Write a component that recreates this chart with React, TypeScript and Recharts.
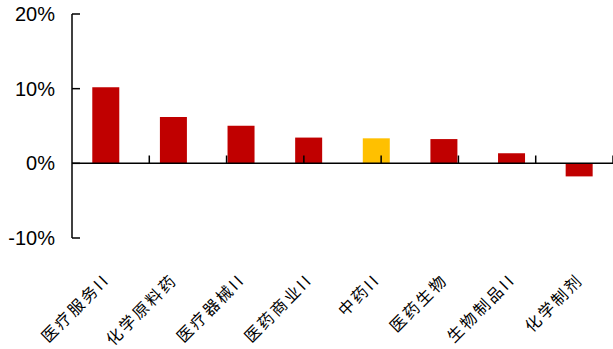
import { Bar, BarChart, Cell, ReferenceLine, XAxis, YAxis } from "recharts";

const categories = ["医疗服务II", "化学原料药", "医疗器械II", "医药商业II", "中药II", "医药生物", "生物制品II", "化学制剂"];
const returns = [10.2, 6.2, 5.05, 3.45, 3.35, 3.25, 1.35, -1.75];
const yTicks = [-10, 0, 10, 20];
const highlighted = "中药II";

const data = categories.map((name, i) => ({ name, value: returns[i] }));
const boundaries = categories.slice(1).map((_, i) => i + 1);

const RED = "#C00000";
const YELLOW = "#FFC000";

function CategoryTick(props: any) {
  const { x, y, payload } = props;
  return (
    <text
      transform={`translate(${x + 1},${y + 31}) rotate(-45)`}
      textAnchor="end"
      dy="0.35em"
      fontSize={16}
      letterSpacing={2.5}
      fontFamily="'Noto Sans CJK SC', sans-serif"
      fill="#000"
    >
      {payload.value}
    </text>
  );
}

export default function App() {
  return (
    <div style={{ position: "absolute", left: 0, top: 0, background: "#fff" }}>
      <BarChart
        width={613}
        height={349}
        data={data}
        barCategoryGap="30%"
        margin={{ top: 14, right: 0, left: 0, bottom: 0 }}
      >
        <XAxis
          dataKey="name"
          height={111}
          interval={0}
          axisLine={false}
          tickLine={false}
          tick={<CategoryTick />}
        />
        <XAxis xAxisId="num" type="number" domain={[0, categories.length]} hide />
        <YAxis
          width={72}
          domain={[-10, 20]}
          ticks={yTicks}
          interval={0}
          tickFormatter={(v: number) => `${v}%`}
          axisLine={{ stroke: "#000", strokeWidth: 1.5 }}
          tickLine={{ stroke: "#000", strokeWidth: 1.5 }}
          tickSize={-8}
          tickMargin={25}
          tick={{ fill: "#000", fontSize: 20, fontFamily: "'Liberation Sans', Arial, sans-serif" }}
        />
        <Bar dataKey="value" isAnimationActive={false}>
          {data.map((d) => (
            <Cell key={d.name} fill={d.name === highlighted ? YELLOW : RED} />
          ))}
        </Bar>
        <ReferenceLine y={0} stroke="#000" strokeWidth={1.5} />
        {boundaries.map((b) => (
          <ReferenceLine
            key={b}
            xAxisId="num"
            segment={[
              { x: b, y: 0 },
              { x: b, y: 1.05 },
            ]}
            stroke="#000"
            strokeWidth={1.5}
          />
        ))}
      </BarChart>
    </div>
  );
}
